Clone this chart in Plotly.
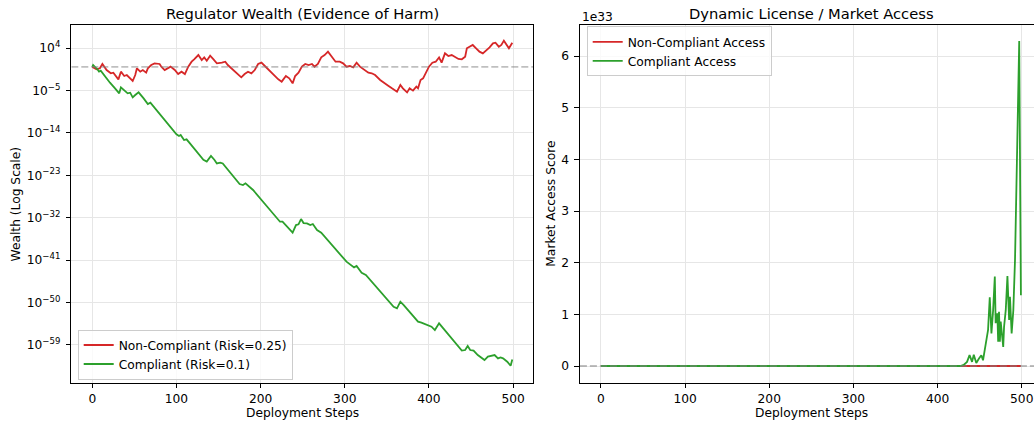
import plotly.graph_objects as go

# ------------------------------------------------------------------
# Data
# ------------------------------------------------------------------
# Left panel: regulator wealth, stored as log10(wealth)
NC_STEPS = [0, 5, 9, 12, 17, 22, 25, 31, 34, 38, 41, 45, 48, 51, 53, 57, 60, 64, 66, 70,
            74, 80, 82, 86, 89, 93, 98, 102, 106, 110, 114, 118, 121, 126, 130, 133, 136, 140, 144, 148,
            154, 158, 161, 167, 173, 177, 181, 185, 189, 193, 197, 201, 205, 209, 215, 221, 225, 230, 234, 238,
            241, 245, 249, 253, 257, 261, 264, 268, 272, 276, 280, 284, 289, 294, 298, 302, 306, 310, 314, 318,
            323, 328, 332, 336, 342, 348, 352, 356, 360, 362, 366, 369, 374, 377, 381, 385, 387, 390, 393, 397,
            400, 404, 408, 412, 415, 419, 423, 427, 431, 435, 439, 443, 445, 449, 452, 456, 460, 464, 468, 472,
            476, 479, 483, 486, 489, 492, 495, 499]
NC_LOG_WEALTH = [0.0, -0.53, -0.31, 0.61, -0.67, -1.37, -1.23, -2.65, -1.02, -1.94, -1.73, -2.44, -3.0, -1.73, -0.31, -1.02, -0.67, -1.23, -0.31, 0.39,
                 0.75, 0.61, 0.04, -0.67, -0.31, 0.04, -0.67, -1.52, -1.02, -1.52, 0.04, 1.1, 1.6, 2.51, 1.45, 2.02, 1.31, 2.37, 1.6, 0.75,
                 0.89, 1.1, 0.39, -0.67, -1.52, -2.22, -1.52, -1.02, -1.37, -0.67, 0.61, 0.89, 0.18, -0.53, -1.73, -2.65, -3.14, -1.94, -2.44, -3.5,
                 -1.94, -1.23, 0.04, 0.61, 0.39, 0.61, 0.04, 0.61, 2.02, 2.51, 3.22, 2.16, 1.1, 1.1, 0.75, 0.04, 0.18, -0.1, 0.89, 0.04,
                 -0.67, -1.23, -1.37, -1.73, -2.79, -3.64, -4.06, -4.56, -4.91, -5.26, -3.85, -4.56, -5.41, -4.56, -5.05, -4.2, -4.56, -2.79, -2.44, -1.02,
                 0.04, 0.89, 1.1, 2.02, 0.89, 2.87, 2.3, 2.51, 2.16, 1.67, 1.6, 2.16, 3.93, 4.42, 4.64, 3.93, 3.22, 2.87, 3.43, 4.14,
                 4.99, 5.13, 4.28, 4.64, 5.56, 4.85, 3.93, 5.1]

C_STEPS = [0, 1, 6, 8, 10, 15, 21, 27, 32, 34, 39, 42, 45, 48, 51, 55, 61, 66, 69, 76,
           88, 100, 103, 105, 109, 112, 116, 132, 136, 141, 145, 148, 152, 155, 175, 179, 182, 187, 191, 223,
           226, 238, 242, 245, 248, 251, 255, 259, 262, 267, 272, 302, 306, 311, 314, 320, 325, 356, 358, 362,
           366, 370, 387, 391, 395, 398, 403, 407, 412, 417, 439, 443, 446, 449, 453, 458, 463, 466, 470, 474,
           478, 482, 485, 488, 493, 497, 499]
C_LOG_WEALTH = [0.0, 0.4, -0.5, -1.0, -0.81, -2.08, -3.36, -4.56, -5.62, -4.35, -5.27, -5.62, -5.48, -6.47, -5.97, -5.41, -6.68, -7.88, -7.6, -9.15,
                -11.63, -14.3, -14.67, -14.46, -15.52, -15.38, -16.23, -19.7, -20.1, -18.9, -19.7, -20.5, -20.33, -20.5, -24.85, -25.07, -24.71, -25.56, -26.12, -32.85,
                -32.85, -35.18, -33.55, -33.41, -32.28, -33.13, -33.2, -33.55, -33.34, -34.62, -35.18, -41.33, -41.83, -42.54, -42.25, -43.67, -44.16, -50.53, -50.89, -51.24,
                -49.82, -50.53, -54.06, -54.27, -54.55, -54.76, -55.12, -55.83, -54.41, -55.47, -60.2, -60.07, -59.22, -60.07, -60.2, -61.13, -61.84, -62.19, -61.48, -61.34,
                -61.13, -61.84, -61.63, -61.84, -62.55, -63.4, -62.06]

THRESHOLD = 1.0

# Right panel: market access score, in units of 1e33
ACCESS_SCALE = 1e33
ACC_C_STEPS = [0, 427, 431, 435, 438, 441, 443, 446, 449, 452, 454, 457, 460, 462, 464, 466, 468, 469, 471, 472,
               473, 474, 475, 478, 479, 481, 483, 485, 486, 488, 490, 492, 494, 495, 497, 499]
ACC_C_VALUES = [0.0, 0.0, 0.02, 0.08, 0.21, 0.08, 0.22, 0.06, 0.14, 0.21, 0.11, 0.37, 0.70, 1.33, 0.63, 1.08, 1.73, 0.83, 1.02, 0.47,
                1.05, 0.47, 0.86, 0.37, 0.76, 1.08, 1.74, 0.89, 1.34, 0.63, 1.08, 2.05, 3.79, 5.21, 6.29, 1.37]
ACC_NC_STEPS = [0, 100, 200, 300, 400, 499]
ACC_NC_VALUES = [0.0, 0.0, 0.0, 0.0, 0.0, 0.0]

X_TICKS = [0, 100, 200, 300, 400, 500]
LOG_TICK_EXPONENTS = [4, -5, -14, -23, -32, -41, -50, -59]
ACCESS_TICKS = [0, 1, 2, 3, 4, 5, 6]

# ------------------------------------------------------------------
RED = "#d62728"
GREEN = "#2ca02c"
FONT = "DejaVu Sans"
W, H = 1034, 423
TICK_SIZE = 12.25
TITLE_SIZE = 14.7


def fx(p):
    return p / W


def fy(p):
    return 1 - p / H


nc_wealth = [10 ** v for v in NC_LOG_WEALTH]
c_wealth = [10 ** v for v in C_LOG_WEALTH]
acc_c = [v * ACCESS_SCALE for v in ACC_C_VALUES]
acc_nc = [v * ACCESS_SCALE for v in ACC_NC_VALUES]

fig = go.Figure()

fig.add_trace(go.Scatter(x=NC_STEPS, y=nc_wealth, mode="lines", name="Non-Compliant (Risk=0.25)",
                         line=dict(color=RED, width=1.8), xaxis="x", yaxis="y", legend="legend"))
fig.add_trace(go.Scatter(x=C_STEPS, y=c_wealth, mode="lines", name="Compliant (Risk=0.1)",
                         line=dict(color=GREEN, width=1.8), xaxis="x", yaxis="y", legend="legend"))
fig.add_trace(go.Scatter(x=ACC_NC_STEPS, y=acc_nc, mode="lines", name="Non-Compliant Access",
                         line=dict(color=RED, width=1.8), xaxis="x2", yaxis="y2", legend="legend2"))
fig.add_trace(go.Scatter(x=ACC_C_STEPS, y=acc_c, mode="lines", name="Compliant Access",
                         line=dict(color=GREEN, width=1.8), xaxis="x2", yaxis="y2", legend="legend2"))

x_range = [-24.95, 523.95]
px_per_step = (533.3 - 71.3) / (x_range[1] - x_range[0])
x2_left = 579.9
x2_range = [-24.95, -24.95 + (W - x2_left) / px_per_step]

# dashed reference lines
fig.add_trace(go.Scatter(x=x_range, y=[THRESHOLD, THRESHOLD], mode="lines", showlegend=False,
                         hoverinfo="skip", line=dict(color="rgba(128,128,128,0.5)", width=1.8, dash="7px,3px"),
                         xaxis="x", yaxis="y"))
fig.add_trace(go.Scatter(x=[x2_range[0], x2_range[1] + 5], y=[0, 0], mode="lines", showlegend=False,
                         hoverinfo="skip", line=dict(color="rgba(128,128,128,0.5)", width=1.8, dash="7px,3px"),
                         xaxis="x2", yaxis="y2"))

axis_common = dict(showline=True, linecolor="black", linewidth=1, ticks="outside", ticklen=4.5,
                   tickwidth=1, tickcolor="black", showgrid=True, gridcolor="#e6e6e6", gridwidth=1,
                   zeroline=False, tickfont=dict(family=FONT, size=TICK_SIZE, color="black"))

ydom = [fy(382.7), fy(25)]

fig.update_layout(
    width=W, height=H,
    margin=dict(l=0, r=0, t=0, b=0),
    paper_bgcolor="white", plot_bgcolor="white",
    font=dict(family=FONT, size=TICK_SIZE, color="black"),
    hovermode=False,
    xaxis=dict(domain=[fx(71.3), fx(533.3)], range=x_range, tickmode="array", tickvals=X_TICKS,
               ticktext=[str(t) for t in X_TICKS], mirror=True, anchor="y", **axis_common),
    yaxis=dict(domain=ydom, type="log", range=[-67.0, 8.88], tickmode="array",
               tickvals=[10.0 ** e for e in LOG_TICK_EXPONENTS],
               ticktext=["10<sup>%s</sup>" % (str(e).replace("-", "\u2212")) for e in LOG_TICK_EXPONENTS],
               mirror=True, anchor="x", ticklabelstandoff=3, **axis_common),
    xaxis2=dict(domain=[fx(x2_left), 1.0], range=x2_range, tickmode="array", tickvals=X_TICKS,
                ticktext=[str(t) for t in X_TICKS], mirror=True, anchor="y2", **axis_common),
    yaxis2=dict(domain=ydom, range=[-0.323 * ACCESS_SCALE, 6.6 * ACCESS_SCALE], tickmode="array",
                tickvals=[t * ACCESS_SCALE for t in ACCESS_TICKS], ticktext=[str(t) for t in ACCESS_TICKS],
                mirror=False, anchor="x2", ticklabelstandoff=3, **axis_common),
    legend=dict(x=fx(77.7), y=fy(379.5), xanchor="left", yanchor="bottom",
                bgcolor="rgba(255,255,255,0.8)", bordercolor="#cccccc", borderwidth=1,
                font=dict(family=FONT, size=TICK_SIZE, color="black")),
    legend2=dict(x=fx(586.7), y=fy(26.4), xanchor="left", yanchor="top",
                 bgcolor="rgba(255,255,255,0.8)", bordercolor="#cccccc", borderwidth=1,
                 font=dict(family=FONT, size=TICK_SIZE, color="black")),
    showlegend=True,
)

ann = []
ann.append(dict(text="Regulator Wealth (Evidence of Harm)", x=fx(302.3), y=fy(13.3), xref="paper", yref="paper",
                xanchor="center", yanchor="middle", showarrow=False, font=dict(family=FONT, size=TITLE_SIZE, color="black")))
ann.append(dict(text="Dynamic License / Market Access", x=fx(811.7), y=fy(13.3), xref="paper", yref="paper",
                xanchor="center", yanchor="middle", showarrow=False, font=dict(family=FONT, size=TITLE_SIZE, color="black")))
for cx in (302.3, 811.7):
    ann.append(dict(text="Deployment Steps", x=fx(cx), y=fy(413), xref="paper", yref="paper",
                    xanchor="center", yanchor="middle", showarrow=False, font=dict(family=FONT, size=TICK_SIZE, color="black")))
ann.append(dict(text="Wealth (Log Scale)", x=fx(15.5), y=fy(204), xref="paper", yref="paper", textangle=-90,
                xanchor="center", yanchor="middle", showarrow=False, font=dict(family=FONT, size=TICK_SIZE, color="black")))
ann.append(dict(text="Market Access Score", x=fx(550.7), y=fy(204), xref="paper", yref="paper", textangle=-90,
                xanchor="center", yanchor="middle", showarrow=False, font=dict(family=FONT, size=TICK_SIZE, color="black")))
ann.append(dict(text="1e33", x=fx(579.5), y=fy(16.7), xref="paper", yref="paper",
                xanchor="left", yanchor="middle", showarrow=False, font=dict(family=FONT, size=TICK_SIZE, color="black")))
fig.update_layout(annotations=ann)

fig.write_html("out.html", config={"displayModeBar": False, "staticPlot": True},
               post_script="document.body.style.margin='0px';document.body.style.overflow='hidden';")
